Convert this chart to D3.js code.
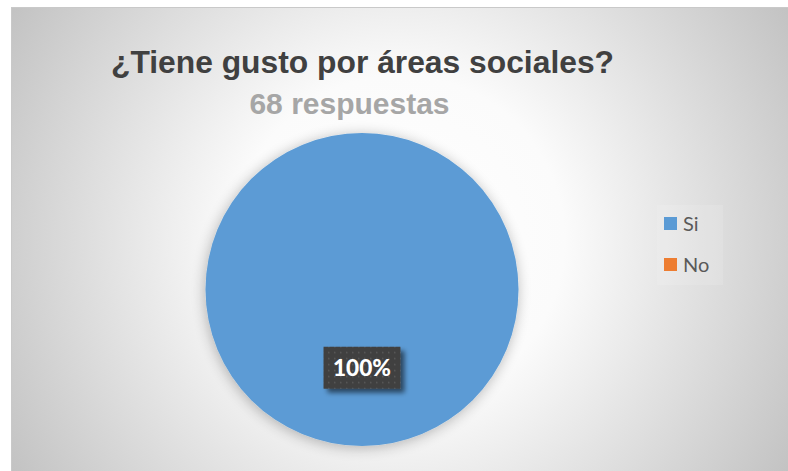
<!DOCTYPE html>
<html>
<head>
<meta charset="utf-8">
<script src="https://cdn.jsdelivr.net/npm/d3@7"></script>
<style>
  html, body { margin: 0; padding: 0; background: #ffffff; }
  svg { display: block; }
</style>
</head>
<body>
<svg id="chart" width="788" height="471"></svg>
<script>
// Survey answers
const categories = ["Si", "No"];
const values = [68, 0];
const sliceColors = ["#5B9BD5", "#ED7D31"];
const titleText = "¿Tiene gusto por áreas sociales?";
const subtitleText = "68 respuestas";

const svg = d3.select("#chart");
const defs = svg.append("defs");

// Chart-area background: soft radial gradient
const bg = defs.append("radialGradient").attr("id", "bgGrad")
  .attr("gradientUnits", "userSpaceOnUse")
  .attr("cx", 400).attr("cy", 240).attr("r", 470);
bg.append("stop").attr("offset", "0%").attr("stop-color", "#ffffff");
bg.append("stop").attr("offset", "35%").attr("stop-color", "#fbfbfb");
bg.append("stop").attr("offset", "100%").attr("stop-color", "#bfbfbf");

// Glow under the pie
const pieShadow = defs.append("filter").attr("id", "pieShadow")
  .attr("x", "-20%").attr("y", "-20%").attr("width", "140%").attr("height", "140%");
pieShadow.append("feGaussianBlur").attr("in", "SourceAlpha").attr("stdDeviation", 7).attr("result", "b");
pieShadow.append("feOffset").attr("in", "b").attr("dx", -1).attr("dy", 2).attr("result", "o");
pieShadow.append("feComponentTransfer").attr("in", "o").attr("result", "s")
  .append("feFuncA").attr("type", "linear").attr("slope", 0.28);
const pm = pieShadow.append("feMerge");
pm.append("feMergeNode").attr("in", "s");
pm.append("feMergeNode").attr("in", "SourceGraphic");

// Drop shadow for the data label box
const lblShadow = defs.append("filter").attr("id", "lblShadow")
  .attr("x", "-30%").attr("y", "-30%").attr("width", "170%").attr("height", "170%");
lblShadow.append("feGaussianBlur").attr("in", "SourceAlpha").attr("stdDeviation", 2.5).attr("result", "b");
lblShadow.append("feOffset").attr("in", "b").attr("dx", 4).attr("dy", 4).attr("result", "o");
lblShadow.append("feComponentTransfer").attr("in", "o").attr("result", "s")
  .append("feFuncA").attr("type", "linear").attr("slope", 0.55);
const lm = lblShadow.append("feMerge");
lm.append("feMergeNode").attr("in", "s");
lm.append("feMergeNode").attr("in", "SourceGraphic");

// Dotted fill for the data label box
const dots = defs.append("pattern").attr("id", "dots")
  .attr("patternUnits", "userSpaceOnUse").attr("width", 6).attr("height", 6);
dots.append("rect").attr("width", 6).attr("height", 6).attr("fill", "#404040");
dots.append("rect").attr("x", 2).attr("y", 2).attr("width", 1.5).attr("height", 1.5).attr("fill", "#5a5a5a");

// Chart area
svg.append("rect")
  .attr("x", 11.5).attr("y", 7.5).attr("width", 780).attr("height", 470)
  .attr("fill", "url(#bgGrad)").attr("stroke", "#c9c9c9").attr("stroke-width", 1);

// Titles
svg.append("text")
  .attr("x", 362.5).attr("y", 73)
  .attr("text-anchor", "middle")
  .attr("font-family", "'Liberation Sans', Arial, sans-serif")
  .attr("font-weight", "bold").attr("font-size", 31.8)
  .attr("fill", "#404040")
  .text(titleText);

svg.append("text")
  .attr("x", 349.5).attr("y", 114)
  .attr("text-anchor", "middle")
  .attr("font-family", "'Liberation Sans', Arial, sans-serif")
  .attr("font-weight", "bold").attr("font-size", 30)
  .attr("fill", "#a6a6a6")
  .text(subtitleText);

// Pie
const cx = 362, cy = 289.5, R = 156.5;
const data = categories.map((c, i) => ({ name: c, value: values[i], color: sliceColors[i] }));
const total = d3.sum(values);
const pie = d3.pie().sort(null).value(d => d.value);
const arcs = pie(data);
const arc = d3.arc().innerRadius(0).outerRadius(R);
const labelArc = d3.arc().innerRadius(R * 0.5).outerRadius(R * 0.5);

const g = svg.append("g").attr("transform", `translate(${cx},${cy})`);
g.append("g").attr("filter", "url(#pieShadow)")
  .selectAll("path")
  .data(arcs.filter(d => d.value > 0))
  .join("path")
  .attr("d", arc)
  .attr("fill", d => d.data.color);

// Data labels
const pct = d3.format(".0%");
const labels = g.selectAll("g.lbl")
  .data(arcs.filter(d => d.value > 0))
  .join("g").attr("class", "lbl")
  .attr("transform", d => {
    const [x, y] = labelArc.centroid(d);
    return `translate(${x},${y})`;
  });

labels.each(function (d) {
  const lg = d3.select(this);
  const box = lg.append("rect").attr("fill", "url(#dots)").attr("filter", "url(#lblShadow)");
  const t = lg.append("text")
    .attr("text-anchor", "middle")
    .attr("font-family", "Lato, 'Open Sans', sans-serif")
    .attr("font-weight", "900")
    .attr("font-size", 24)
    .attr("fill", "#ffffff")
    .attr("dy", "0.36em")
    .text(pct(d.value / total));
  // fit label text width
  const w = t.node().getComputedTextLength();
  t.attr("font-size", 24 * 58 / w);
  box.attr("x", -38.5).attr("y", -21).attr("width", 77).attr("height", 42);
});

// Legend
const legend = svg.append("g").attr("transform", "translate(664,217)");
legend.append("rect")
  .attr("x", -7).attr("y", -12).attr("width", 66).attr("height", 80)
  .attr("fill", "#ffffff").attr("opacity", 0.12);
const li = legend.selectAll("g.item").data(data).join("g").attr("class", "item")
  .attr("transform", (d, i) => `translate(0,${i * 41})`);
li.append("rect").attr("width", 13).attr("height", 13).attr("fill", d => d.color);
li.append("text")
  .attr("x", 19).attr("y", 13.5)
  .attr("font-family", "Lato, 'Open Sans', sans-serif")
  .attr("font-size", 20)
  .attr("fill", "#595959")
  .text(d => d.name);
</script>
</body>
</html>
